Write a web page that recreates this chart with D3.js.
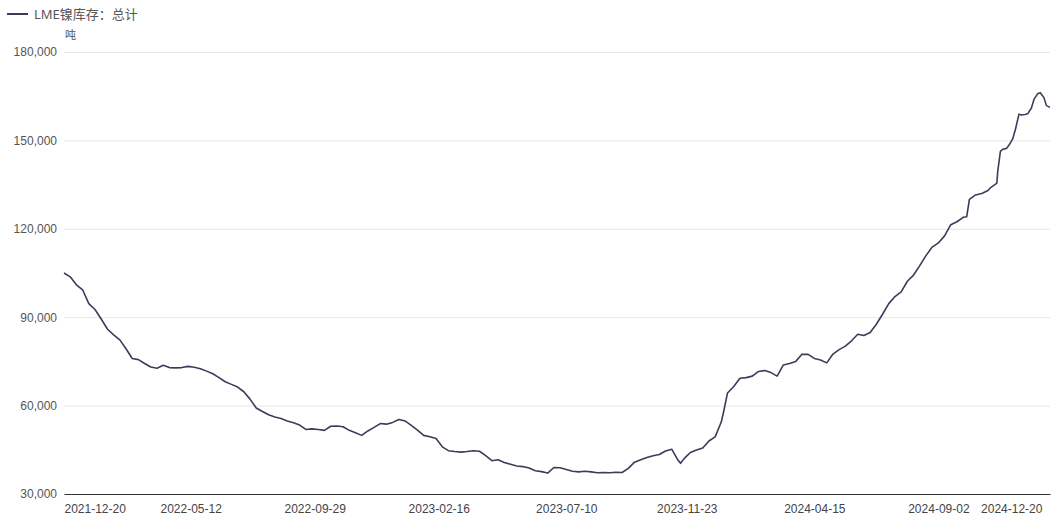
<!DOCTYPE html>
<html><head><meta charset="utf-8">
<script src="https://cdn.jsdelivr.net/npm/d3@7"></script>
<style>
html,body{margin:0;padding:0;background:#fff;}
svg{display:block;font-family:"Noto Sans","Noto Sans CJK SC",sans-serif;}
</style></head>
<body>
<svg id="c" width="1059" height="522"></svg>
<script>
const seriesName = "LME镍库存：总计";
const unitLabel = "吨";
const yTicks = [30000, 60000, 90000, 120000, 150000, 180000];
const xTickLabels = ["2021-12-20","2022-05-12","2022-09-29","2023-02-16","2023-07-10","2023-11-23","2024-04-15","2024-09-02","2024-12-20"];

const dates = [
"2021-12-20","2021-12-27","2022-01-03","2022-01-10","2022-01-17","2022-01-24","2022-01-31","2022-02-07","2022-02-14","2022-02-21",
"2022-02-28","2022-03-07","2022-03-14","2022-03-21","2022-03-28","2022-04-04","2022-04-11","2022-04-18","2022-04-25","2022-05-02",
"2022-05-09","2022-05-16","2022-05-23","2022-05-30","2022-06-06","2022-06-13","2022-06-20","2022-06-27","2022-07-04","2022-07-11",
"2022-07-18","2022-07-25","2022-08-01","2022-08-08","2022-08-15","2022-08-22","2022-08-29","2022-09-05","2022-09-12","2022-09-19",
"2022-09-26","2022-10-03","2022-10-10","2022-10-17","2022-10-24","2022-10-31","2022-11-07","2022-11-14","2022-11-21","2022-11-28",
"2022-12-05","2022-12-12","2022-12-19","2022-12-26","2023-01-02","2023-01-09","2023-01-16","2023-01-23","2023-01-30","2023-02-06",
"2023-02-13","2023-02-20","2023-02-27","2023-03-06","2023-03-13","2023-03-20","2023-03-27","2023-04-03","2023-04-10","2023-04-17",
"2023-04-24","2023-05-01","2023-05-08","2023-05-15","2023-05-22","2023-05-29","2023-06-05","2023-06-12","2023-06-19","2023-06-26",
"2023-07-03","2023-07-10","2023-07-17","2023-07-24","2023-07-31","2023-08-07","2023-08-14","2023-08-21","2023-08-28","2023-09-04",
"2023-09-11","2023-09-18","2023-09-25","2023-10-02","2023-10-09","2023-10-16","2023-10-23","2023-10-30","2023-11-06","2023-11-13",
"2023-11-16","2023-11-20","2023-11-27","2023-12-04","2023-12-11","2023-12-18","2023-12-25","2024-01-01","2024-01-04","2024-01-08",
"2024-01-15","2024-01-22","2024-01-29","2024-02-05","2024-02-12","2024-02-19","2024-02-26","2024-03-04","2024-03-11","2024-03-18",
"2024-03-25","2024-04-01","2024-04-08","2024-04-15","2024-04-22","2024-04-29","2024-05-06","2024-05-13","2024-05-20","2024-05-27",
"2024-06-03","2024-06-10","2024-06-17","2024-06-24","2024-07-01","2024-07-08","2024-07-15","2024-07-22","2024-07-29","2024-08-05",
"2024-08-12","2024-08-19","2024-08-26","2024-09-02","2024-09-09","2024-09-16","2024-09-23","2024-09-30","2024-10-04","2024-10-07",
"2024-10-14","2024-10-21","2024-10-28","2024-10-31","2024-11-04","2024-11-07","2024-11-08","2024-11-11","2024-11-14","2024-11-18",
"2024-11-21","2024-11-25","2024-11-28","2024-12-02","2024-12-05","2024-12-09","2024-12-12","2024-12-16","2024-12-19","2024-12-23",
"2024-12-26","2024-12-30","2025-01-02","2025-01-06"
];
const stock = [
105000,103700,101000,99300,94600,92600,89400,86000,84000,82300,
79300,76000,75600,74300,73100,72700,73700,72900,72800,72900,
73300,73000,72500,71700,70800,69500,68100,67200,66300,64700,
62200,59200,58000,56900,56100,55600,54800,54200,53400,51900,
52100,51900,51600,53000,53100,52800,51600,50800,49900,51400,
52600,53900,53700,54300,55300,54800,53300,51700,49900,49400,
48800,46000,44700,44400,44200,44400,44700,44500,43000,41300,
41600,40700,40100,39500,39300,38800,37900,37600,37100,39000,
38900,38300,37700,37500,37700,37500,37200,37300,37200,37400,
37300,38700,40800,41600,42400,43000,43400,44600,45200,41500,
40400,42000,44100,44900,45600,48000,49400,54500,58500,64300,
66500,69300,69500,70000,71600,71900,71200,70000,73800,74300,
75000,77400,77400,76000,75500,74500,77500,79000,80200,82000,
84200,83800,84800,87600,91000,94600,97000,98600,102200,104300,
107500,110900,113800,115200,117600,121400,122400,123900,124100,130000,
131500,132000,133000,134000,134800,135500,139500,146300,147000,147300,
148500,150600,153800,158900,158600,158800,159100,161000,164000,165800,
166200,164600,161800,161200
];

const svg = d3.select("#c");
const parse = d3.timeParse("%Y-%m-%d");
const data = dates.map((d,i)=>({date:parse(d), v:stock[i]}));

const mL = 64, mR = 1050, mT = 52, mB = 494;
const x = d3.scaleTime().domain([parse("2021-12-20"), parse("2025-01-06")]).range([mL, mR]);
const y = d3.scaleLinear().domain([30000, 180000]).range([mB, mT]);

// grid lines + y labels
const yAxis = d3.axisLeft(y).tickValues(yTicks).tickSize(-(mR-mL)).tickFormat(d3.format(",")).tickPadding(7);
const gy = svg.append("g").attr("transform",`translate(${mL},0)`).call(yAxis);
gy.select(".domain").remove();
gy.selectAll(".tick line").attr("stroke","#e6e6e6").attr("stroke-width",1);
gy.selectAll(".tick text").attr("fill","#555").attr("font-size",12);

// x axis
const xAxis = d3.axisBottom(x).tickValues(xTickLabels.map(parse)).tickSize(0).tickPadding(10).tickFormat(d3.timeFormat("%Y-%m-%d"));
const gx = svg.append("g").attr("transform",`translate(0,${mB})`).call(xAxis);
gx.select(".domain").attr("stroke","#333").attr("stroke-width",1.2);
gx.selectAll(".tick text").attr("fill","#444").attr("font-size",12)
  .attr("text-anchor",(d,i)=> i===0 ? "start" : (i===xTickLabels.length-1 ? "end" : "middle"))
  .attr("dx",(d,i)=> i===xTickLabels.length-1 ? 7 : 0);

// line
const line = d3.line().x(d=>x(d.date)).y(d=>y(d.v));
svg.append("path").datum(data).attr("d",line)
  .attr("fill","none").attr("stroke","#3c3c5a").attr("stroke-width",1.6).attr("stroke-linejoin","round");

// legend
svg.append("line").attr("x1",7).attr("x2",28).attr("y1",14).attr("y2",14).attr("stroke","#3c3c5a").attr("stroke-width",2);
svg.append("text").attr("x",34).attr("y",18.5).attr("fill","#555").attr("font-size",13).text(seriesName);
svg.append("text").attr("x",65).attr("y",39).attr("fill","#555").attr("font-size",11).text(unitLabel);
</script>
</body></html>
